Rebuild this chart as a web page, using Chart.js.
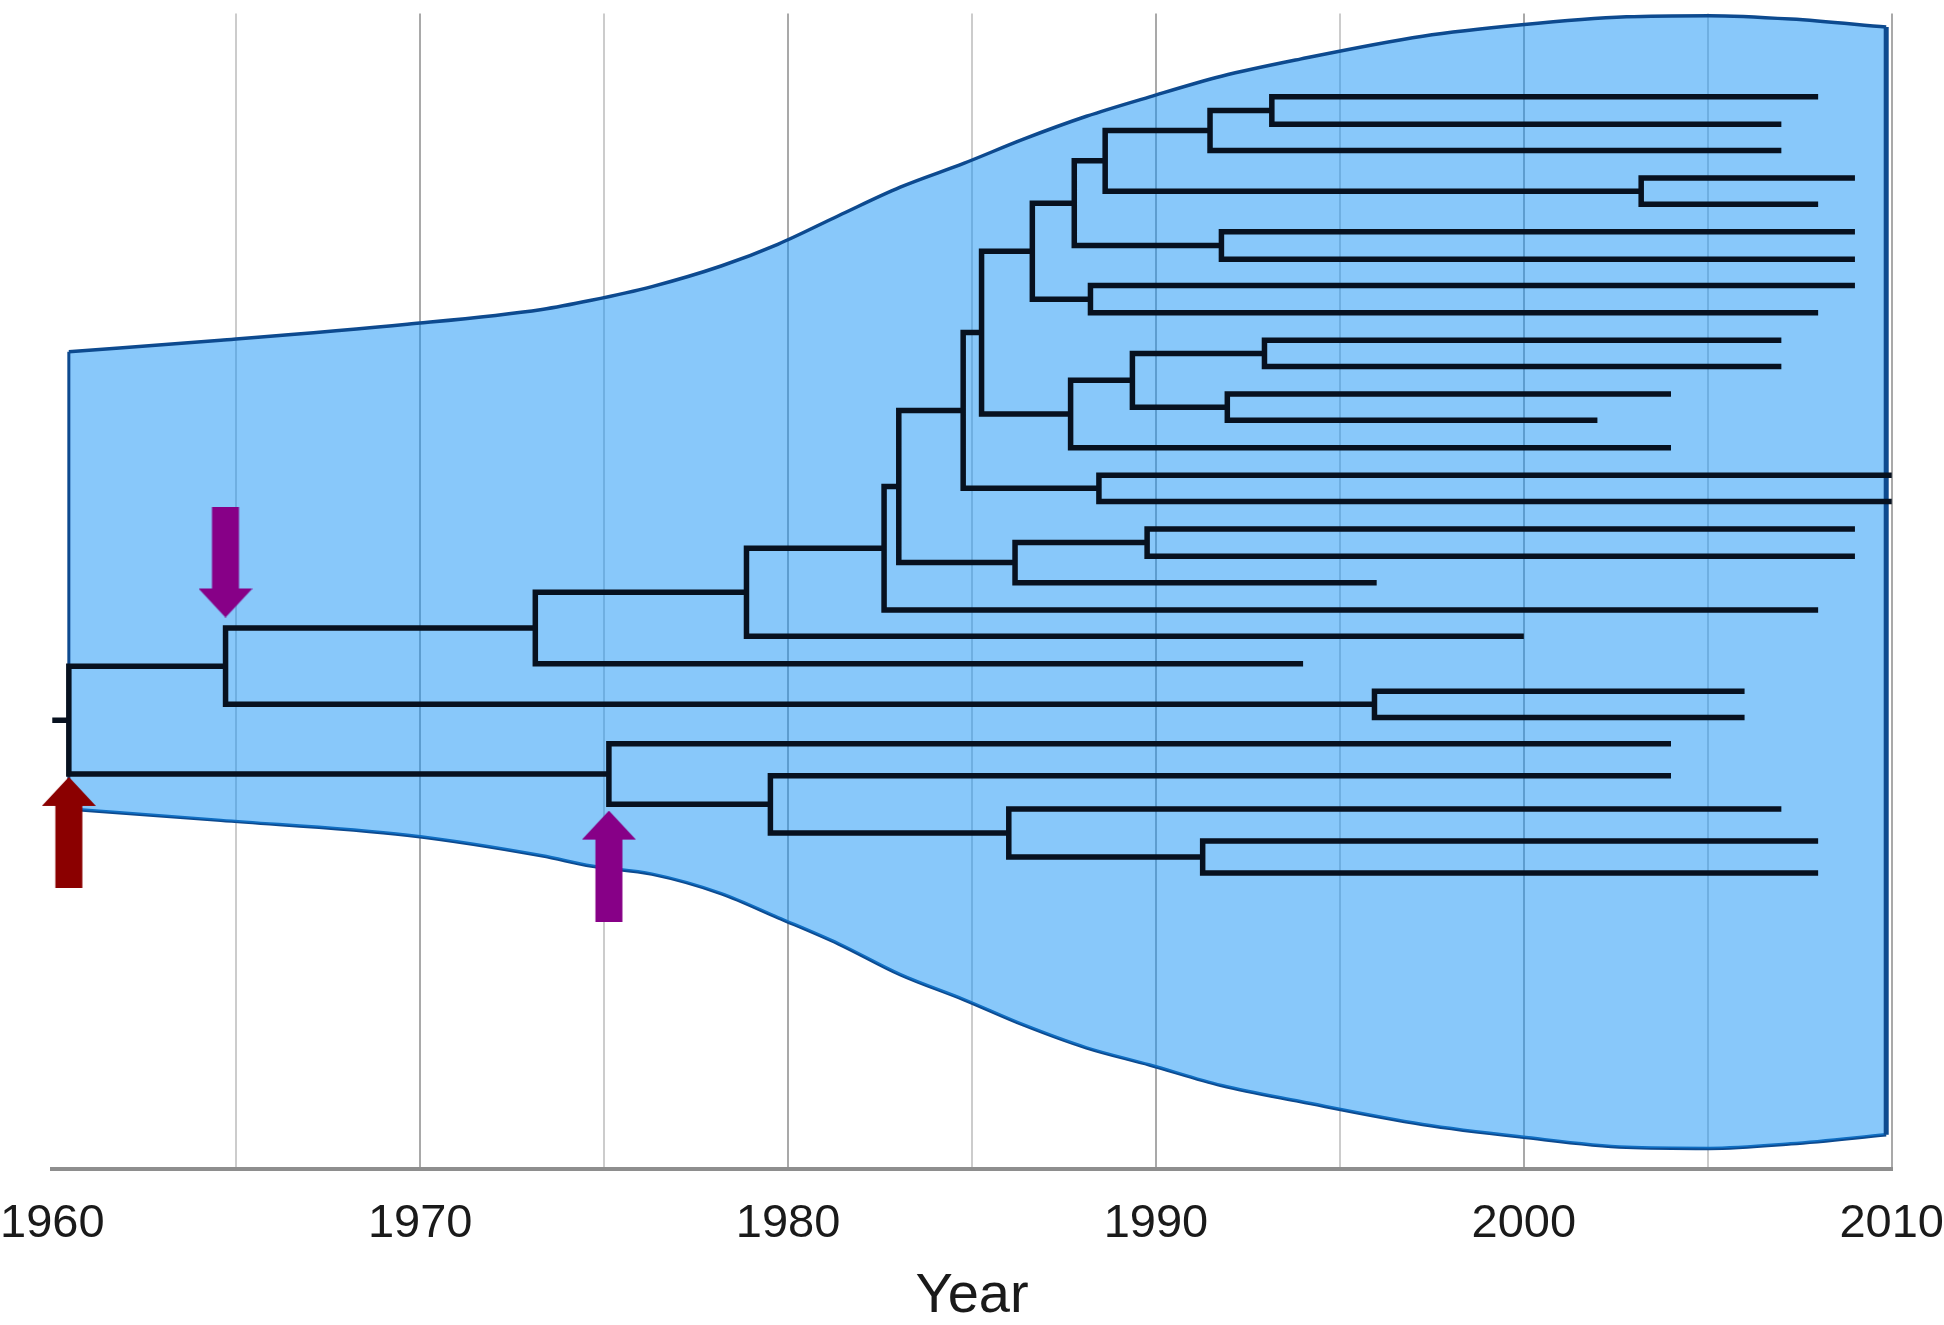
<!DOCTYPE html>
<html>
<head>
<meta charset="utf-8">
<title>Lineages 1960-2010</title>
<script src="https://cdn.jsdelivr.net/npm/chart.js@4.4.1/dist/chart.umd.min.js"></script>
<style>
  html, body { margin: 0; padding: 0; background: #fff; }
  #wrap { width: 1944px; height: 1325px; }
</style>
</head>
<body>
<div id="wrap"><canvas id="myChart"></canvas></div>
<script>
// envelope round the tree (x = year, y = plot units, 0 = axis, 100 = top of grid)
const envYears = [1960.45, 1964.58, 1969.65, 1973.31, 1974.65, 1976.3, 1978.18, 1979.72, 1981.37, 1983.05, 1984.79,
                  1986.4, 1988.11, 1989.83, 1991.78, 1993.92, 1997.25, 1999.94, 2002.79, 2005.04, 2007.26, 2009.85];
const envUpper = [71.5, 72.5, 73.9, 75.2, 76.0, 77.2, 79.0, 80.9, 83.4, 85.9, 88.0,
                  90.1, 92.1, 93.8, 95.6, 97.1, 99.1, 100.1, 100.8, 100.9, 100.6, 99.9];
const envLower = [31.5, 30.5, 29.2, 27.4, 26.5, 25.8, 24.1, 22.0, 19.7, 17.0, 14.8,
                  12.6, 10.6, 9.1, 7.3, 5.9, 3.9, 2.8, 1.9, 1.8, 2.2, 3.0];

// internal nodes of the tree: year of the split, parent node (-1 = root)
const nodeYear = [1960.45, 1964.71, 1975.13, 1973.13, 1995.94, 1978.87, 1982.61, 1983.01, 1984.76, 1986.17,
                  1985.26, 1988.45, 1986.64, 1987.68, 1987.78, 1988.22, 1988.62, 1991.78, 1991.47, 2003.19,
                  1993.15, 1989.36, 1992.95, 1991.94, 1989.76, 1979.52, 1986.0, 1991.27];
const nodeParent = [-1, 0, 0, 1, 1, 3, 5, 6, 7, 7,
                    8, 8, 10, 10, 12, 12, 14, 14, 16, 16,
                    18, 13, 21, 21, 9, 2, 25, 26];

// tips, top to bottom: last sampling year, parent node, row position
const tipYear = [2008, 2007, 2007, 2009, 2008, 2009, 2009, 2009, 2008, 2007,
                 2007, 2004, 2002, 2004, 2010, 2010, 2009, 2009, 1996, 2008,
                 2000, 1994, 2006, 2006, 2004, 2004, 2007, 2008, 2008];
const tipParent = [20, 20, 18, 19, 19, 17, 17, 15, 15, 22,
                   22, 23, 23, 13, 11, 11, 24, 24, 9, 6,
                   5, 3, 4, 4, 2, 25, 26, 27, 27];
const tipY = [93.8, 91.4, 89.1, 86.7, 84.4, 82.0, 79.6, 77.3, 74.9, 72.5,
              70.2, 67.8, 65.5, 63.1, 60.7, 58.4, 56.0, 53.6, 51.3, 48.9,
              46.6, 44.2, 41.8, 39.5, 37.2, 34.4, 31.5, 28.7, 25.9];

// arrows marking events
const arrowYear = [1960.45, 1964.71, 1975.13];
const arrowY = [29.45, 53.1, 26.5];
const arrowDir = ['up', 'down', 'up'];
const arrowColor = ['#8b0000', '#870087', '#870087'];

const xLabels = [1960, 1970, 1980, 1990, 2000, 2010];

// y of an internal node = middle of its children
function nodeY(i) {
    const ys = [];
    nodeParent.forEach((p, k) => { if (p === i) ys.push(nodeY(k)); });
    tipParent.forEach((p, k) => { if (p === i) ys.push(tipY[k]); });
    return ys.reduce((a, b) => a + b, 0) / ys.length;
}

const treePts = [];
const rootY = nodeY(0);
treePts.push({x: 1960, y: rootY}, {x: nodeYear[0], y: rootY}, {x: nodeYear[0], y: null});
function branch(p, year, y) {
    const py = nodeY(p);
    treePts.push({x: nodeYear[p], y: py}, {x: nodeYear[p], y: y}, {x: year, y: y}, {x: year, y: null});
}
nodeParent.forEach((p, i) => { if (p >= 0) branch(p, nodeYear[i], nodeY(i)); });
tipParent.forEach((p, i) => branch(p, tipYear[i], tipY[i]));

const last = envYears.length - 1;
const edgePts = [
    {x: envYears[0], y: envUpper[0]}, {x: envYears[0], y: envLower[0]}, {x: envYears[0], y: null},
    {x: envYears[last], y: envUpper[last]}, {x: envYears[last], y: envLower[last]}
];

function arrowImage(color) {
    const c = document.createElement("canvas");
    c.width = 54;
    c.height = 111;
    const g = c.getContext("2d");
    g.fillStyle = color;
    g.beginPath();
    g.moveTo(27, 0);
    g.lineTo(54, 29);
    g.lineTo(40.5, 29);
    g.lineTo(40.5, 111);
    g.lineTo(13.5, 111);
    g.lineTo(13.5, 29);
    g.lineTo(0, 29);
    g.closePath();
    g.fill();
    return c;
}

const envBorder = "#0d4a8f";
const ctx = document.getElementById("myChart");

new Chart(ctx, {
    type: "scatter",
    data: {
        datasets: [
            {
                label: "upper",
                data: envYears.map((x, i) => ({x: x, y: envUpper[i]})),
                showLine: true,
                borderColor: envBorder,
                borderWidth: 3.5,
                backgroundColor: "rgba(17,145,245,0.5)",
                fill: "+1",
                cubicInterpolationMode: "monotone",
                pointRadius: 0,
                clip: false,
                order: 4
            },
            {
                label: "lower",
                data: envYears.map((x, i) => ({x: x, y: envLower[i]})),
                showLine: true,
                borderColor: envBorder,
                borderWidth: 3.5,
                fill: false,
                cubicInterpolationMode: "monotone",
                pointRadius: 0,
                clip: false,
                order: 4
            },
            {
                label: "edges",
                data: edgePts,
                showLine: true,
                borderColor: envBorder,
                borderWidth: 3,
                segment: {
                    borderWidth: c => c.p0.parsed.x > 2000 ? 5 : 3
                },
                pointRadius: 0,
                spanGaps: false,
                clip: false,
                order: 3
            },
            {
                label: "tree",
                data: treePts,
                showLine: true,
                borderColor: "#07111f",
                borderWidth: 5.5,
                borderJoinStyle: "miter",
                borderCapStyle: "butt",
                tension: 0,
                pointRadius: 0,
                spanGaps: false,
                clip: false,
                order: 1
            },
            {
                label: "arrows",
                data: arrowYear.map((x, i) => ({x: x, y: arrowY[i]})),
                showLine: false,
                pointStyle: arrowColor.map(arrowImage),
                pointRotation: arrowDir.map(d => d === "down" ? 180 : 0),
                pointRadius: 27,
                clip: false,
                order: 0
            }
        ]
    },
    options: {
        responsive: true,
        maintainAspectRatio: false,
        animation: false,
        layout: {
            autoPadding: false,
            padding: {left: 0, right: 0, top: 13.4, bottom: 0}
        },
        plugins: {
            legend: {display: false},
            tooltip: {enabled: false}
        },
        scales: {
            x: {
                type: "linear",
                min: 1960,
                max: 2010,
                afterFit: scale => { scale.height = 156; },
                grid: {
                    drawTicks: true,
                    tickLength: 27,
                    tickColor: "rgba(0,0,0,0)",
                    lineWidth: 2,
                    color: c => {
                        const v = c.tick ? c.tick.value : 0;
                        if (v === 1960) return "rgba(0,0,0,0)";
                        return v % 10 === 0 ? "#a9a9a9" : "#cccccc";
                    }
                },
                border: {display: true, color: "#8e8e8e", width: 4},
                ticks: {
                    stepSize: 5,
                    autoSkip: false,
                    maxRotation: 0,
                    padding: 0,
                    color: "#1a1a1a",
                    font: {family: "'Liberation Sans', sans-serif", size: 47},
                    callback: v => xLabels.includes(v) ? String(v) : ""
                },
                title: {
                    display: true,
                    text: "Year",
                    color: "#1a1a1a",
                    padding: {top: 0, bottom: 0},
                    font: {family: "'Liberation Sans', sans-serif", size: 56, lineHeight: 1}
                }
            },
            y: {
                display: false,
                min: 0,
                max: 101.1
            }
        }
    }
});
</script>
</body>
</html>
